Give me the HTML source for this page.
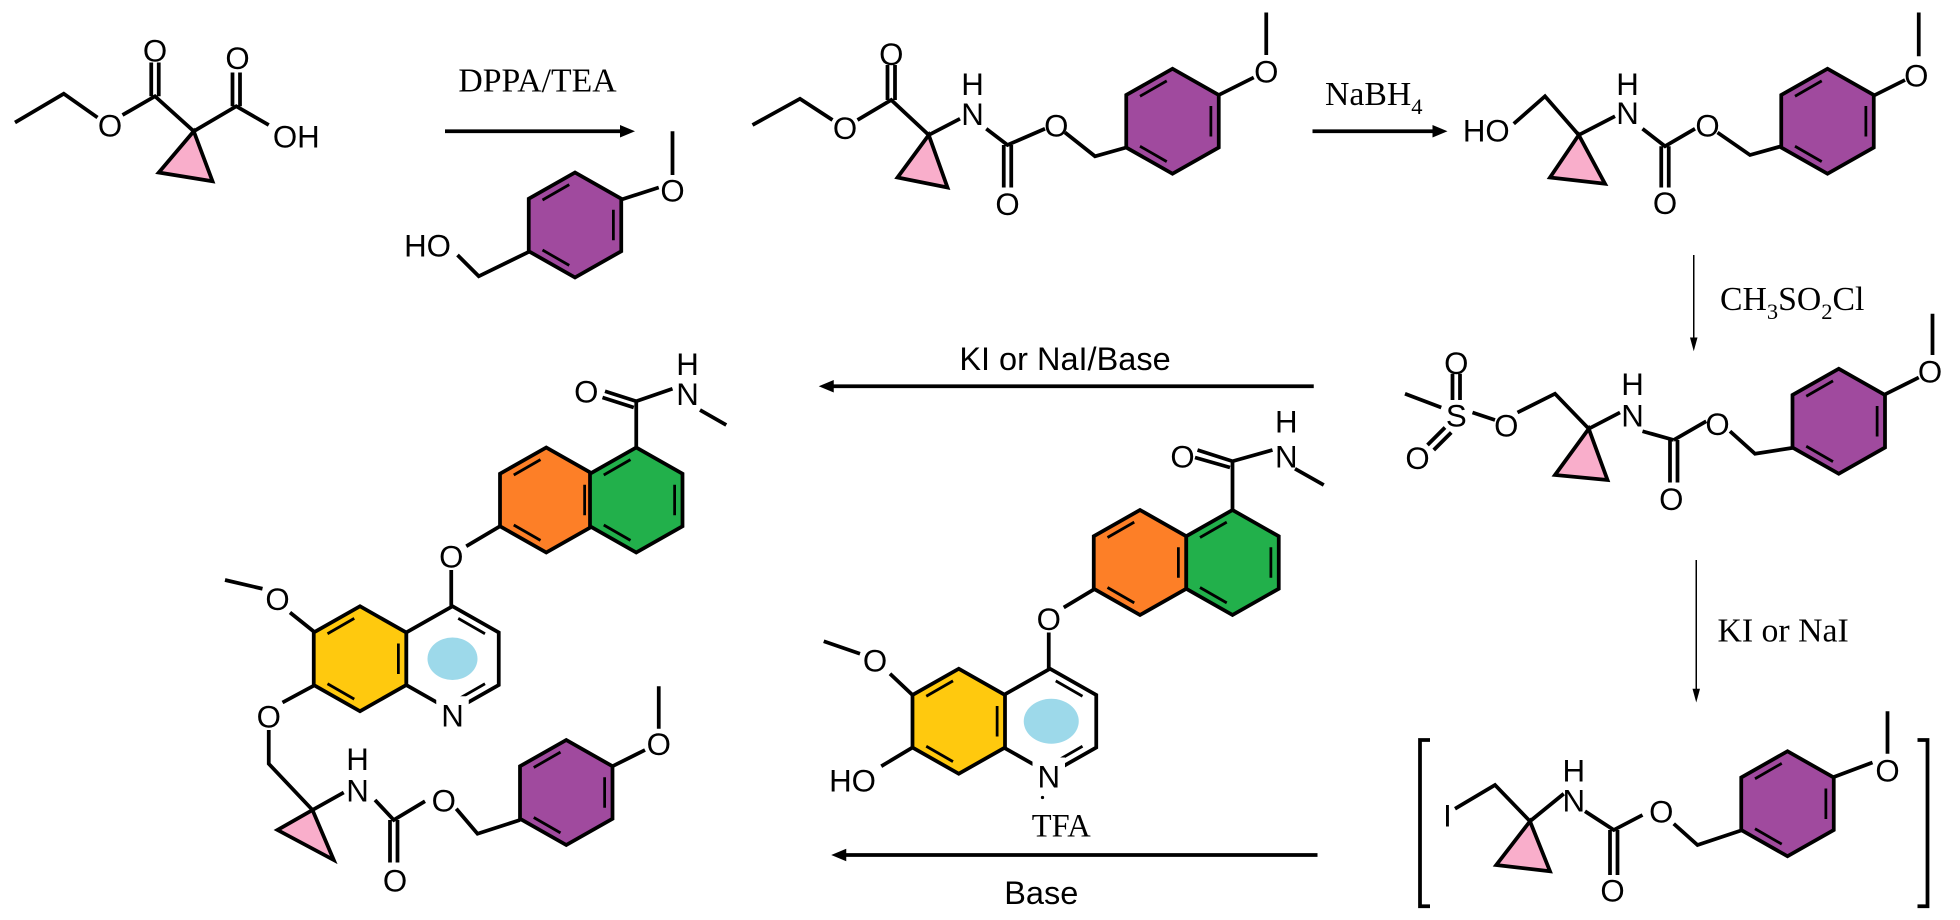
<!DOCTYPE html>
<html><head><meta charset="utf-8"><style>
html,body{margin:0;padding:0;background:#fff;}
svg{display:block}
.s{font-family:"Liberation Sans",sans-serif;font-size:25px;text-anchor:middle}
.r{font-family:"Liberation Serif",serif;font-size:27px}
</style></head><body>
<svg width="1960" height="920" viewBox="0 0 1568 736" preserveAspectRatio="none" xmlns="http://www.w3.org/2000/svg">
<defs>
<g id="hx" stroke="#000" stroke-width="3" stroke-linejoin="miter">
<polygon points="0,-42 37,-21 37,21 0,42 -37,21 -37,-21"/>
<line x1="-26" y1="-20" x2="-4.6" y2="-32.3" stroke-width="2.2"/>
<line x1="30.7" y1="-12.2" x2="30.7" y2="12.2" stroke-width="2.2"/>
<line x1="-4.6" y1="32.3" x2="-26" y2="20" stroke-width="2.2"/>
</g>
<g id="py" stroke="#000" stroke-width="3">
<polygon points="0,-42 37,-21 37,21 0,42 -37,21 -37,-21" fill="#fff"/>
<line x1="4.6" y1="-32.3" x2="26" y2="-20" stroke-width="2.2"/>
<line x1="26" y1="20" x2="4.6" y2="32.3" stroke-width="2.2"/>
</g>
</defs>
<g fill="none" stroke="#000" stroke-width="3" stroke-linecap="butt" stroke-linejoin="miter">
<!-- mol1 -->
<path d="M12,98 L51,75 L78,94 M98,92 L124,77 L155,105 L189,85 L215,100 M121,77 L121,50 M127,77 L127,50 M186,85 L186,58 M192,85 L192,58"/>
<polygon points="155,105 127,138 170,145" fill="#f9aecb"/>
<!-- reagent -->
<path d="M538,105 L538,140 M496,160 L527,150 M424,201 L383,221 L366,204"/>
<!-- mol2 -->
<path d="M602,100 L640,79 L666,96 M686,96 L713,80 L743,108 M710,80 L710,52 M716,80 L716,52 M743,108 L768,95 M789,103 L806,116 L836,103 M803,116 L803,150 M809,116 L809,150 M852,106 L876,125 L901,118 M975,76 L1003,62 M1013,10 L1013,44"/>
<polygon points="743,108 718,142 758,150" fill="#f9aecb"/>
<!-- mol3 -->
<path d="M1211,99 L1236,77 L1263,108 M1263,108 L1292,93 M1314,103 L1332,117 L1356,103 M1329,117 L1329,150 M1335,117 L1335,150 M1374,106 L1400,124 L1425,117 M1498,77 L1524,64 M1535,10 L1535,45"/>
<polygon points="1263,108 1240,142 1284,147" fill="#f9aecb"/>
<!-- mesylate -->
<path d="M1124,315 L1153,326 M1162,299 L1162,320 M1168,299 L1168,320 M1156,342 L1142,356 M1161,346 L1147,360 M1178,330 L1196,336 M1214,330 L1244,315 L1271,343 M1271,343 L1296,330 M1314,345 L1339,352 M1336,352 L1336,386 M1342,352 L1342,386 M1339,352 L1365,337 M1384,345 L1404,363 L1436,358 M1507,316 L1535,302 M1546,251 L1546,284"/>
<polygon points="1271,343 1244,380 1286,384" fill="#f9aecb"/>
<!-- bracket mol -->
<path d="M1144,592 L1136,592 L1136,725 L1144,725 M1534,592 L1542,592 L1542,725 L1534,725"/>
<path d="M1164,647 L1196,628 L1224,657 M1224,657 L1251,635 M1268,649 L1291,664 L1314,652 M1288,664 L1288,700 M1294,664 L1294,700 M1339,659 L1358,676 L1394,664 M1466,622 L1498,610 M1510,569 L1510,603"/>
<polygon points="1224,657 1197,692 1240,697" fill="#f9aecb"/>
<!-- arrows -->
<path d="M356,105 L500,105 M1050,105 L1150,105 M1051,309 L663,309 M1054,684 L673,684"/>
<path d="M1355,204 L1355,274 M1357,448 L1357,554" stroke-width="1.2"/>
<!-- middle compound -->
<path d="M986,369 L958,360 M984,374 L956,366 M986,369 L1018,360 M1036,375 L1059,388 M986,369 L986,408 M876,471 L851,486 M839,506 L839,535 M730,556 L712,539 M688,523 L659,513 M730,598 L705,613"/>
<!-- left product -->
<path d="M509,321 L484,313 M507,326 L482,318 M509,321 L538,311 M560,328 L581,340 M509,321 L509,358 M400,421 L373,437 M361,456 L361,485 M252,506 L232,490 M210,471 L180,464 M252,548 L226,562 M215,584 L215,611 L250,648 M250,648 L275,634 M300,640 L315,656 L340,641 M312,656 L312,690 M318,656 L318,690 M365,647 L382,667 L416,656 M490,613 L516,600 M527,549 L527,583"/>
<polygon points="250,648 222,664 267,688" fill="#f9aecb"/>
</g>
<!-- arrowheads -->
<g fill="#000">
<polygon points="508,105 496,100 496,110"/>
<polygon points="1158,105 1146,100 1146,110"/>
<polygon points="655,309 667,304 667,314"/>
<polygon points="665,684 677,679 677,689"/>
<polygon points="1355,281 1352,270 1358,270"/>
<polygon points="1357,562 1354,551 1360,551"/>
<circle cx="834" cy="638" r="1.3"/>
</g>
<!-- rings -->
<use href="#hx" x="460" y="180" fill="#a04a9e"/>
<use href="#hx" x="938" y="97" fill="#a04a9e"/>
<use href="#hx" x="1462" y="97" fill="#a04a9e"/>
<use href="#hx" x="1471" y="337" fill="#a04a9e"/>
<use href="#hx" x="1430" y="643" fill="#a04a9e"/>
<use href="#hx" x="453" y="634" fill="#a04a9e"/>
<use href="#hx" x="912" y="450" fill="#fd7f27"/>
<use href="#hx" x="986" y="450" fill="#22b04b"/>
<use href="#py" x="840" y="577"/>
<use href="#hx" x="767" y="577" fill="#ffc90e"/>
<use href="#hx" x="437" y="400" fill="#fd7f27"/>
<use href="#hx" x="509" y="400" fill="#22b04b"/>
<use href="#py" x="362" y="527"/>
<use href="#hx" x="288" y="527" fill="#ffc90e"/>
<ellipse cx="841" cy="577" rx="22" ry="18" fill="#9dd9ea"/>
<ellipse cx="362" cy="527" rx="20" ry="17" fill="#9dd9ea"/>
<rect x="826" y="606" width="26" height="26" fill="#fff"/>
<rect x="349" y="557" width="26" height="26" fill="#fff"/>
<!-- labels -->
<g class="s">
<text x="88" y="109">O</text><text x="124" y="49">O</text><text x="190" y="55">O</text><text x="237" y="118">OH</text>
<text x="538" y="161">O</text><text x="342" y="205">HO</text>
<text x="676" y="111">O</text><text x="713" y="52">O</text><text x="778" y="76">H</text><text x="778" y="100">N</text><text x="845" y="109">O</text><text x="806" y="172">O</text><text x="1013" y="66">O</text>
<text x="1189" y="113">HO</text><text x="1302" y="76">H</text><text x="1302" y="99">N</text><text x="1366" y="109">O</text><text x="1332" y="171">O</text><text x="1533" y="69">O</text>
<text x="1165" y="341">S</text><text x="1165" y="299">O</text><text x="1134" y="375">O</text><text x="1205" y="349">O</text><text x="1306" y="316">H</text><text x="1306" y="341">N</text><text x="1374" y="348">O</text><text x="1337" y="408">O</text><text x="1544" y="306">O</text>
<text x="1158" y="661">I</text><text x="1259" y="625">H</text><text x="1259" y="649">N</text><text x="1329" y="658">O</text><text x="1290" y="721">O</text><text x="1510" y="625">O</text>
<text x="946" y="374">O</text><text x="1029" y="346">H</text><text x="1029" y="374">N</text><text x="839" y="504">O</text><text x="839" y="630">N</text><text x="700" y="537">O</text><text x="682" y="633">HO</text>
<text x="469" y="322">O</text><text x="550" y="300">H</text><text x="550" y="324">N</text><text x="361" y="454">O</text><text x="362" y="581">N</text><text x="222" y="488">O</text><text x="215" y="582">O</text>
<text x="286" y="616">H</text><text x="286" y="641">N</text><text x="355" y="649">O</text><text x="316" y="713">O</text><text x="527" y="604">O</text>
<text x="852" y="296" font-size="26">KI or NaI/Base</text>
<text x="833" y="723" font-size="26">Base</text>
</g>
<g class="r">
<text x="430" y="73" text-anchor="middle">DPPA/TEA</text>
<text x="1060" y="84">NaBH<tspan font-size="18" dy="7">4</tspan></text>
<text x="1376" y="248">CH<tspan font-size="18" dy="7">3</tspan><tspan dy="-7">SO</tspan><tspan font-size="18" dy="7">2</tspan><tspan dy="-7">Cl</tspan></text>
<text x="1374" y="513">KI or NaI</text>
<text x="849" y="669" text-anchor="middle" font-size="26">TFA</text>
</g>
</svg>
</body></html>
